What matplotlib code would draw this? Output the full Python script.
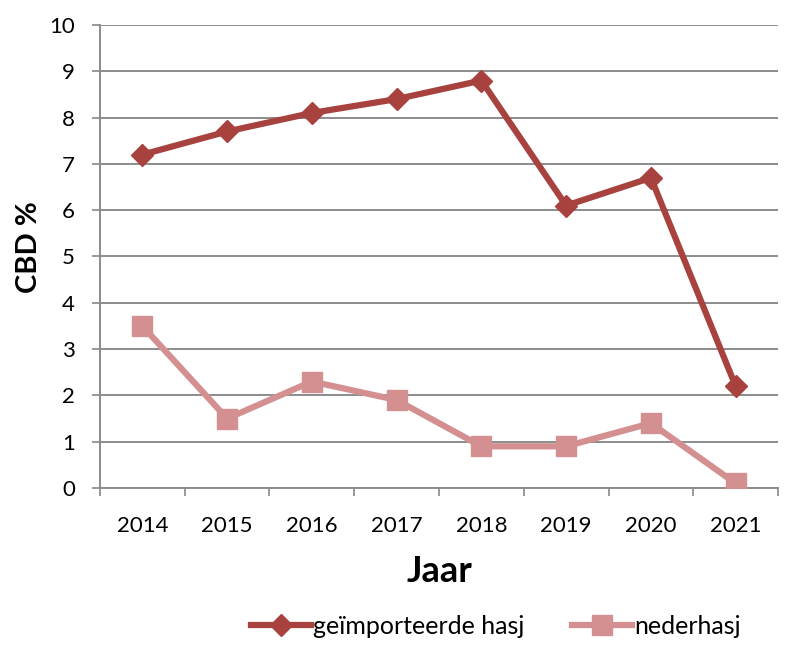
import matplotlib.pyplot as plt
import numpy as np

# DATA
years = ["2014", "2015", "2016", "2017", "2018", "2019", "2020", "2021"]
geimporteerd = [7.2, 7.7, 8.1, 8.4, 8.8, 6.1, 6.7, 2.2]
nederhasj = [3.5, 1.5, 2.3, 1.9, 0.9, 0.9, 1.4, 0.1]

plt.rcParams['font.family'] = ['Lato', 'DejaVu Sans']

fig = plt.figure(figsize=(7.87, 6.46), dpi=100)
ax = fig.add_axes([0.127, 0.2446, 0.8616, 0.7167])

x = np.arange(len(years))
ax.plot(x, geimporteerd, color="#A8423F", lw=4.5, marker="D", ms=11,
        label="geïmporteerde hasj", zorder=3)
ax.plot(x, nederhasj, color="#D49090", lw=4.5, marker="s", ms=14,
        label="nederhasj", zorder=3)

ax.set_xlim(-0.5, len(years) - 0.5)
ax.set_ylim(0, 10)
ax.set_yticks(range(0, 11))
ax.set_xticks(x)
ax.set_xticklabels(years)
ax.set_xticks(np.arange(-0.5, len(years), 1), minor=True)
ax.tick_params(axis="x", which="major", length=0, pad=20, labelsize=16)
ax.tick_params(axis="x", which="minor", length=6, color="#888888", width=1.2)
ax.tick_params(axis="y", length=6, color="#888888", width=1.2, labelsize=16, pad=12)

ax.grid(axis="y", color="#8C8C8C", lw=1.4)
ax.set_axisbelow(True)
for s in ["top", "right"]:
    ax.spines[s].set_visible(False)
for s in ["left", "bottom"]:
    ax.spines[s].set_color("#8C8C8C")
    ax.spines[s].set_linewidth(1.4)

ax.set_xlabel("Jaar", fontsize=26, fontweight="bold", labelpad=14)
ax.set_ylabel("CBD %", fontsize=21, fontweight="bold", labelpad=6)
ax.yaxis.set_label_coords(-0.085, 0.52)

fig.legend(loc="center", bbox_to_anchor=(0.63, 0.03), ncol=2, frameon=False,
           fontsize=18, handlelength=2.4, handletextpad=0.1, columnspacing=1.9,
           borderpad=0)

fig.savefig("out.png", dpi=100)
